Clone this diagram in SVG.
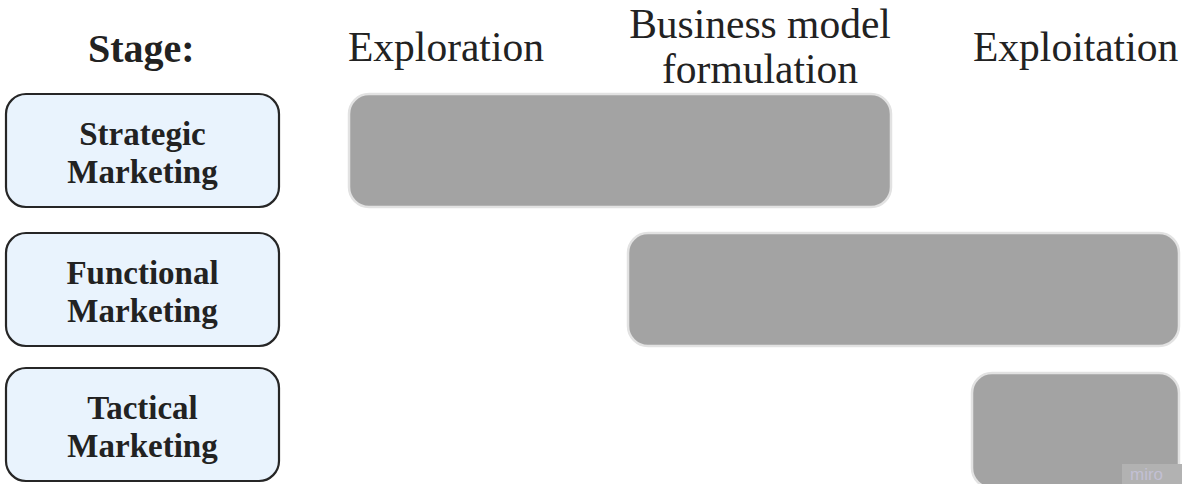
<svg xmlns="http://www.w3.org/2000/svg" width="1182" height="484" viewBox="0 0 1182 484">
  <style>
    .head { font-family: "Liberation Serif", "Times New Roman", serif; font-size: 41.5px; fill: #222; }
    .stage { font-family: "Liberation Serif", "Times New Roman", serif; font-size: 40px; font-weight: bold; fill: #222; }
    .lbl { fill: #e9f3fd; stroke: #262626; stroke-width: 2.2; }
    .lbl-text { font-family: "Liberation Serif", "Times New Roman", serif; font-size: 33px; font-weight: bold; fill: #222; text-anchor: middle; }
    .bar { fill: #a3a3a3; stroke: #e2e2e2; stroke-width: 2.5; }
  </style>

  <!-- column headings -->
  <g id="headings">
    <text class="stage" x="88" y="62">Stage:</text>
    <text class="head" x="348" y="61">Exploration</text>
    <text class="head" x="760" y="38" text-anchor="middle">Business model</text>
    <text class="head" x="760" y="83" text-anchor="middle">formulation</text>
    <text class="head" x="973" y="61">Exploitation</text>
  </g>

  <!-- row labels -->
  <g id="strategic">
    <rect class="lbl" x="6" y="94" width="273" height="113" rx="20"/>
    <text class="lbl-text" x="142.5" y="145">Strategic</text>
    <text class="lbl-text" x="142.5" y="183">Marketing</text>
  </g>
  <g id="functional">
    <rect class="lbl" x="6" y="233" width="273" height="113" rx="20"/>
    <text class="lbl-text" x="142.5" y="284">Functional</text>
    <text class="lbl-text" x="142.5" y="322">Marketing</text>
  </g>
  <g id="tactical">
    <rect class="lbl" x="6" y="368" width="273" height="113" rx="20"/>
    <text class="lbl-text" x="142.5" y="419">Tactical</text>
    <text class="lbl-text" x="142.5" y="457">Marketing</text>
  </g>

  <!-- timeline bars -->
  <g id="bar-strategic">
    <rect class="bar" x="349" y="94" width="542" height="113" rx="20"/>
  </g>
  <g id="bar-functional">
    <rect class="bar" x="628" y="233" width="551" height="113" rx="20"/>
  </g>
  <g id="bar-tactical">
    <rect class="bar" x="972" y="373" width="207" height="115" rx="20"/>
  </g>

  <!-- no connectors in this chart -->
  <g id="connectors"/>

  <g id="miro-mark">
    <rect x="1122" y="464" width="60" height="20" fill="#b2b2b2"/>
    <text x="1130" y="480" font-family="Liberation Sans, Arial, sans-serif" font-size="17px" fill="#c2c0d4">miro</text>
  </g>
</svg>
